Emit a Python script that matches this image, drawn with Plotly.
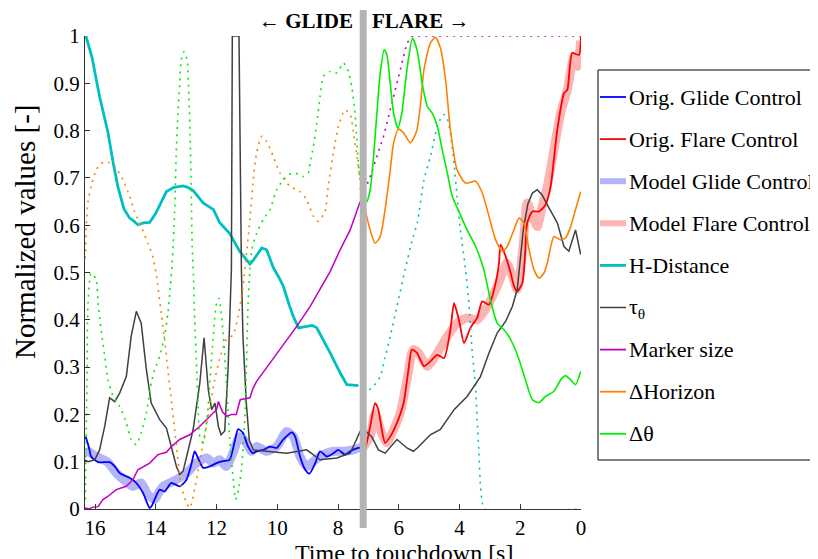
import plotly.graph_objects as go

FONT = "Liberation Serif"

# ---------------- data (time to touchdown [s], normalized value) ----------------
hdist_glide_t = [16.3, 16.1, 15.85, 15.57, 15.4, 15.25, 15.05, 14.86, 14.75, 14.59, 14.4, 14.2, 14.0, 13.85, 13.65, 13.4, 13.1, 12.95, 12.77, 12.6, 12.44, 12.1, 11.9, 11.57, 11.24, 11.05, 10.9, 10.8, 10.65, 10.51, 10.35, 10.13, 9.95, 9.8, 9.6, 9.47, 9.3, 9.15, 8.98, 8.85, 8.7, 8.5, 8.26, 7.93, 7.71, 7.5, 7.33]
hdist_glide_y = [1.0, 0.955, 0.872, 0.795, 0.731, 0.682, 0.635, 0.615, 0.61, 0.601, 0.605, 0.606, 0.625, 0.645, 0.671, 0.68, 0.683, 0.68, 0.673, 0.66, 0.647, 0.633, 0.606, 0.583, 0.545, 0.53, 0.518, 0.525, 0.54, 0.552, 0.548, 0.51, 0.49, 0.471, 0.43, 0.407, 0.383, 0.385, 0.386, 0.388, 0.383, 0.36, 0.33, 0.288, 0.263, 0.262, 0.261]
hdist_flare_t = [7.15, 7.05, 6.8, 6.61, 6.45, 6.28, 6.06, 5.79, 5.55, 5.39, 5.17, 4.96, 4.73, 4.6, 4.51, 4.4, 4.3, 4.18, 4.08, 3.97, 3.8, 3.69, 3.58, 3.47, 3.42, 3.36, 3.31, 3.25, 3.2, 0.0]
hdist_flare_y = [0.255, 0.249, 0.262, 0.28, 0.32, 0.365, 0.428, 0.506, 0.57, 0.605, 0.696, 0.745, 0.809, 0.828, 0.834, 0.825, 0.795, 0.731, 0.661, 0.59, 0.506, 0.435, 0.33, 0.259, 0.189, 0.118, 0.048, 0.013, 0.0, 0.0]

marker_glide_t = [16.34, 16.2, 16.07, 15.9, 15.74, 15.57, 15.3, 14.97, 14.75, 14.59, 14.2, 13.93, 13.65, 13.49, 13.21, 12.88, 12.55, 12.28, 12.0, 11.94, 11.8, 11.66, 11.5, 11.35, 11.22, 10.9, 10.8, 10.68, 10.24, 9.8, 9.36, 8.92, 8.59, 8.26, 7.93, 7.6, 7.44, 7.33, 7.27]
marker_glide_y = [0.002, 0.0, 0.004, 0.005, 0.02, 0.027, 0.041, 0.048, 0.062, 0.083, 0.097, 0.115, 0.12, 0.132, 0.147, 0.157, 0.175, 0.192, 0.21, 0.227, 0.205, 0.196, 0.2, 0.2, 0.231, 0.235, 0.255, 0.27, 0.309, 0.347, 0.386, 0.428, 0.464, 0.502, 0.548, 0.59, 0.619, 0.64, 0.65]
marker_flare_t = [7.2, 6.94, 6.72, 6.5, 6.28, 6.06, 5.84, 5.73, 5.55, 0.0]
marker_flare_y = [0.66, 0.703, 0.745, 0.788, 0.844, 0.9, 0.957, 0.985, 1.0, 1.0]

tau_t = [16.34, 16.23, 16.01, 15.85, 15.68, 15.52, 15.35, 15.19, 14.97, 14.81, 14.64, 14.48, 14.31, 14.15, 13.87, 13.65, 13.49, 13.32, 13.21, 13.1, 12.95, 12.77, 12.55, 12.41, 12.27, 12.16, 12.05, 11.94, 11.85, 11.73, 11.62, 11.57, 11.51, 11.48, 11.26, 11.18, 11.13, 11.02, 10.92, 10.79, 10.35, 9.69, 9.03, 8.59, 8.04, 7.6, 7.27, 7.11, 6.89, 6.67, 6.45, 6.06, 5.73, 5.52, 5.39, 4.96, 4.63, 4.18, 3.75, 3.31, 3.03, 2.76, 2.48, 2.26, 2.1, 1.9, 1.75, 1.6, 1.44, 1.28, 1.05, 0.78, 0.56, 0.4, 0.18, 0.01]
tau_y = [0.104, 0.1, 0.104, 0.125, 0.175, 0.235, 0.227, 0.245, 0.28, 0.365, 0.418, 0.393, 0.295, 0.224, 0.189, 0.171, 0.132, 0.09, 0.073, 0.08, 0.12, 0.168, 0.266, 0.362, 0.252, 0.21, 0.224, 0.175, 0.157, 0.165, 0.295, 0.4, 0.506, 1.0, 1.0, 0.506, 0.365, 0.224, 0.145, 0.125, 0.122, 0.118, 0.125, 0.104, 0.108, 0.118, 0.164, 0.166, 0.153, 0.125, 0.118, 0.147, 0.129, 0.122, 0.129, 0.157, 0.168, 0.21, 0.238, 0.28, 0.33, 0.372, 0.397, 0.428, 0.464, 0.59, 0.645, 0.668, 0.675, 0.664, 0.636, 0.605, 0.555, 0.545, 0.59, 0.538]

glide_orig_t = [16.31, 16.2, 16.13, 15.9, 15.52, 15.35, 15.19, 14.86, 14.64, 14.42, 14.28, 14.2, 14.12, 14.04, 13.87, 13.71, 13.49, 13.21, 12.99, 12.83, 12.72, 12.61, 12.44, 12.22, 12.0, 11.79, 11.57, 11.4, 11.29, 11.13, 10.96, 10.8, 10.68, 10.46, 10.24, 10.02, 9.8, 9.52, 9.41, 9.25, 9.08, 8.94, 8.75, 8.59, 8.37, 8.15, 7.99, 7.77, 7.6, 7.33, 7.2]
glide_orig_y = [0.153, 0.13, 0.111, 0.099, 0.099, 0.09, 0.076, 0.066, 0.055, 0.034, 0.012, 0.002, 0.008, 0.02, 0.041, 0.037, 0.055, 0.048, 0.062, 0.094, 0.122, 0.108, 0.087, 0.09, 0.097, 0.101, 0.104, 0.143, 0.169, 0.161, 0.132, 0.118, 0.122, 0.125, 0.132, 0.129, 0.147, 0.162, 0.153, 0.111, 0.083, 0.075, 0.097, 0.122, 0.111, 0.118, 0.125, 0.115, 0.122, 0.129, 0.13]

glide_model_t = [16.31, 15.96, 15.6, 15.3, 14.86, 14.75, 14.6, 14.48, 14.3, 14.2, 14.04, 13.9, 13.76, 13.32, 12.99, 12.66, 12.33, 12.11, 11.9, 11.68, 11.46, 11.24, 11.02, 10.85, 10.68, 10.35, 10.02, 9.69, 9.47, 9.25, 9.03, 8.75, 8.48, 8.15, 7.82, 7.49, 7.2]
glide_model_y = [0.125, 0.111, 0.1, 0.076, 0.052, 0.048, 0.052, 0.055, 0.035, 0.027, 0.02, 0.035, 0.048, 0.062, 0.076, 0.097, 0.108, 0.097, 0.104, 0.09, 0.118, 0.153, 0.14, 0.122, 0.132, 0.122, 0.132, 0.164, 0.153, 0.111, 0.09, 0.104, 0.115, 0.122, 0.122, 0.125, 0.132]

flare_orig_t = [7.2, 7.11, 6.94, 6.78, 6.67, 6.56, 6.45, 6.28, 6.06, 5.84, 5.68, 5.57, 5.4, 5.17, 4.96, 4.73, 4.51, 4.3, 4.18, 4.02, 3.85, 3.64, 3.42, 3.25, 3.03, 2.81, 2.7, 2.65, 2.48, 2.32, 2.2, 2.1, 1.93, 1.85, 1.77, 1.6, 1.38, 1.17, 1.0, 0.78, 0.56, 0.45, 0.29, 0.07, 0.0]
flare_orig_y = [0.127, 0.129, 0.175, 0.224, 0.21, 0.168, 0.14, 0.153, 0.182, 0.224, 0.295, 0.337, 0.33, 0.302, 0.312, 0.326, 0.319, 0.379, 0.435, 0.4, 0.351, 0.383, 0.404, 0.439, 0.432, 0.478, 0.52, 0.559, 0.534, 0.5, 0.47, 0.46, 0.478, 0.53, 0.605, 0.629, 0.629, 0.643, 0.682, 0.802, 0.879, 0.886, 0.964, 0.96, 0.999]

flare_model_t = [7.2, 6.94, 6.78, 6.56, 6.39, 6.17, 5.95, 5.73, 5.52, 5.35, 5.06, 4.73, 4.4, 4.08, 3.75, 3.42, 3.09, 2.76, 2.54, 2.45, 2.3, 2.1, 1.9, 1.77, 1.6, 1.44, 1.28, 1.11, 0.89, 0.67, 0.45, 0.23, 0.12, 0.01]
flare_model_y = [0.127, 0.153, 0.203, 0.16, 0.14, 0.168, 0.203, 0.273, 0.337, 0.33, 0.302, 0.33, 0.365, 0.393, 0.404, 0.4, 0.428, 0.471, 0.506, 0.52, 0.5, 0.464, 0.56, 0.647, 0.619, 0.597, 0.64, 0.682, 0.76, 0.837, 0.886, 0.957, 0.936, 0.99]

horizon_glide_t = [16.33, 16.31, 16.29, 16.23, 16.13, 15.96, 15.8, 15.57, 15.35, 15.08, 14.86, 14.7, 14.48, 14.26, 14.09, 13.98, 13.82, 13.71, 13.6, 13.49, 13.38, 13.27, 13.16, 12.99, 12.88, 12.66, 12.5, 12.28, 12.06, 11.9, 11.68, 11.46, 11.29, 11.13, 11.0, 10.9, 10.79, 10.68, 10.51, 10.35, 10.13, 9.91, 9.58, 9.25, 9.03, 8.81, 8.65, 8.43, 8.32, 8.15, 7.99, 7.77, 7.6, 7.49, 7.38, 7.33, 7.27]
horizon_glide_y = [0.53, 0.545, 0.597, 0.65, 0.682, 0.717, 0.731, 0.733, 0.724, 0.696, 0.661, 0.629, 0.597, 0.562, 0.531, 0.495, 0.414, 0.358, 0.294, 0.231, 0.168, 0.104, 0.048, 0.013, 0.002, 0.062, 0.118, 0.196, 0.273, 0.316, 0.358, 0.368, 0.407, 0.471, 0.548, 0.612, 0.696, 0.753, 0.788, 0.777, 0.745, 0.71, 0.682, 0.671, 0.654, 0.619, 0.608, 0.629, 0.682, 0.753, 0.809, 0.844, 0.834, 0.795, 0.745, 0.724, 0.69]
horizon_flare_t = [7.27, 7.11, 6.94, 6.78, 6.61, 6.45, 6.28, 6.17, 6.01, 5.84, 5.62, 5.5, 5.4, 5.29, 5.17, 4.96, 4.79, 4.63, 4.46, 4.3, 4.08, 3.8, 3.47, 3.25, 3.03, 2.81, 2.59, 2.43, 2.21, 2.04, 1.88, 1.71, 1.55, 1.38, 1.22, 1.11, 0.89, 0.67, 0.51, 0.34, 0.18, 0.01]
horizon_flare_y = [0.679, 0.633, 0.59, 0.562, 0.576, 0.633, 0.717, 0.774, 0.803, 0.795, 0.774, 0.785, 0.802, 0.851, 0.929, 0.985, 0.997, 0.975, 0.908, 0.802, 0.717, 0.689, 0.693, 0.668, 0.619, 0.569, 0.545, 0.555, 0.59, 0.615, 0.605, 0.548, 0.506, 0.488, 0.499, 0.52, 0.576, 0.569, 0.573, 0.597, 0.633, 0.671]

dtheta_glide_t = [16.32, 16.27, 16.23, 16.13, 15.96, 15.9, 15.8, 15.68, 15.57, 15.4, 15.19, 14.97, 14.81, 14.64, 14.48, 14.31, 14.15, 14.04, 13.87, 13.71, 13.6, 13.52, 13.46, 13.38, 13.33, 13.27, 13.21, 13.16, 13.07, 12.97, 12.91, 12.86, 12.83, 12.8, 12.76, 12.72, 12.66, 12.61, 12.55, 12.44, 12.3, 12.15, 12.0, 11.92, 11.78, 11.68, 11.57, 11.46, 11.37, 11.28, 11.18, 11.07, 11.02, 10.96, 10.9, 10.84, 10.68, 10.46, 10.24, 10.02, 9.8, 9.63, 9.41, 9.14, 8.98, 8.92, 8.81, 8.7, 8.59, 8.48, 8.26, 8.04, 7.82, 7.66, 7.55, 7.44, 7.38, 7.33, 7.29]
dtheta_glide_y = [0.02, 0.25, 0.435, 0.499, 0.485, 0.435, 0.379, 0.323, 0.273, 0.238, 0.217, 0.182, 0.147, 0.136, 0.161, 0.203, 0.266, 0.294, 0.323, 0.365, 0.414, 0.471, 0.52, 0.626, 0.745, 0.837, 0.9, 0.95, 0.967, 0.95, 0.872, 0.767, 0.661, 0.555, 0.495, 0.4, 0.309, 0.224, 0.153, 0.14, 0.2, 0.33, 0.435, 0.445, 0.372, 0.273, 0.153, 0.069, 0.02, 0.04, 0.083, 0.189, 0.294, 0.435, 0.506, 0.548, 0.583, 0.612, 0.633, 0.675, 0.696, 0.707, 0.71, 0.703, 0.71, 0.731, 0.767, 0.816, 0.872, 0.915, 0.925, 0.922, 0.943, 0.925, 0.894, 0.837, 0.781, 0.731, 0.703]
dtheta_flare_t = [7.25, 7.16, 7.05, 6.94, 6.83, 6.72, 6.61, 6.48, 6.39, 6.28, 6.17, 6.03, 5.9, 5.73, 5.55, 5.4, 5.23, 5.06, 4.9, 4.73, 4.57, 4.4, 4.24, 4.02, 3.75, 3.47, 3.2, 2.98, 2.76, 2.48, 2.26, 2.04, 1.83, 1.6, 1.38, 1.17, 0.89, 0.67, 0.51, 0.34, 0.18, 0.01]
dtheta_flare_y = [0.668, 0.65, 0.65, 0.675, 0.745, 0.837, 0.922, 0.971, 0.96, 0.9, 0.837, 0.805, 0.837, 0.929, 0.995, 0.971, 0.9, 0.851, 0.837, 0.809, 0.76, 0.71, 0.661, 0.629, 0.59, 0.555, 0.506, 0.442, 0.393, 0.375, 0.351, 0.316, 0.273, 0.231, 0.225, 0.238, 0.249, 0.273, 0.282, 0.273, 0.263, 0.291]

phase_switch_t = 7.17
x_ticks = [0, 2, 4, 6, 8, 10, 12, 14, 16]
y_ticks = [0, 0.1, 0.2, 0.3, 0.4, 0.5, 0.6, 0.7, 0.8, 0.9, 1.0]
y_tick_text = ["0", "0.1", "0.2", "0.3", "0.4", "0.5", "0.6", "0.7", "0.8", "0.9", "1"]
legend_names = ["Orig. Glide Control", "Orig. Flare Control", "Model Glide Control",
                "Model Flare Control", "H-Distance", "τ<sub>θ</sub>", "Marker size",
                "ΔHorizon", "Δθ"]
x_title = "Time to touchdown [s]"
y_title = "Normalized values [-]"

# ---------------- colours ----------------
C_BLUE = "#0000ff"
C_RED = "#ff0000"
C_LBLUE = "#b4b4f8"
C_PINK = "#ffb4b4"
C_CYAN = "#00bfbf"
C_GRAY = "#404040"
C_PURPLE = "#bf00bf"
C_ORANGE = "#ff8000"
C_GREEN = "#00ee00"
DOT = "2px,5px"
legend_colors = [C_BLUE, C_RED, C_LBLUE, C_PINK, C_CYAN, C_GRAY, C_PURPLE, C_ORANGE, C_GREEN]
legend_widths = [1.8, 1.8, 6, 6, 2.8, 1.5, 1.8, 1.8, 1.8]

# ---------------- geometry (figure pixels) ----------------
W, H = 818, 559
ML, MR, MT, MB = 77, 245, 28, 58
PW, PH = W - ML - MR, H - MT - MB


def px(fx):
    return (fx - ML) / PW


def py(fy):
    return (H - MB - fy) / PH


fig = go.Figure()


def add(t, y, color, width, dash="solid", shape="spline"):
    fig.add_trace(go.Scatter(
        x=t, y=y, mode="lines", showlegend=False,
        line=dict(color=color, width=width, dash=dash, shape=shape, smoothing=0.6),
        hoverinfo="skip",
    ))


add(glide_model_t, glide_model_y, C_LBLUE, 9)
add(flare_model_t, flare_model_y, C_PINK, 9)
add(glide_orig_t, glide_orig_y, C_BLUE, 1.8)
add(flare_orig_t, flare_orig_y, C_RED, 1.8)
add(hdist_glide_t, hdist_glide_y, C_CYAN, 2.8, shape="linear")
add(hdist_flare_t, hdist_flare_y, C_CYAN, 1.6, dash=DOT)
add(tau_t, tau_y, C_GRAY, 1.5, shape="linear")
add(marker_glide_t, marker_glide_y, C_PURPLE, 1.5, shape="linear")
add(marker_flare_t, marker_flare_y, C_PURPLE, 1.6, dash=DOT, shape="linear")
add(horizon_flare_t, horizon_flare_y, C_ORANGE, 1.6)
add(horizon_glide_t, horizon_glide_y, C_ORANGE, 1.6, dash=DOT)
add(dtheta_flare_t, dtheta_flare_y, C_GREEN, 1.6)
add(dtheta_glide_t, dtheta_glide_y, C_GREEN, 1.6, dash=DOT)

# phase switch band
fig.add_shape(type="line", xref="x", yref="paper", x0=phase_switch_t, x1=phase_switch_t,
              y0=py(520), y1=py(2), line=dict(color="#b3b3b3", width=7), layer="above")

fig.add_annotation(xref="paper", yref="paper", x=px(347), y=py(13), xanchor="right", yanchor="middle",
                   text="← <b>GLIDE</b>", showarrow=False, font=dict(family=FONT, size=21, color="black"))
fig.add_annotation(xref="paper", yref="paper", x=px(362), y=py(13), xanchor="left", yanchor="middle",
                   text="<b>FLARE</b> →", showarrow=False, font=dict(family=FONT, size=21, color="black"))

# axis titles (placed as in the reference)
fig.add_annotation(xref="paper", yref="paper", x=px(396), y=py(545), xanchor="center", yanchor="middle",
                   text=x_title, showarrow=False, font=dict(family=FONT, size=24, color="black"))
fig.add_annotation(xref="paper", yref="paper", x=px(17), y=py(224), xanchor="center", yanchor="middle",
                   text=y_title, textangle=-90, showarrow=False,
                   font=dict(family=FONT, size=29, color="black"))

# legend box (drawn by hand so spacing matches)
fig.add_shape(type="rect", xref="paper", yref="paper", x0=px(590), x1=px(840),
              y0=py(452), y1=py(62), line=dict(color="black", width=1), fillcolor="white", layer="above")
for i, (name, col, lw) in enumerate(zip(legend_names, legend_colors, legend_widths)):
    cy = 89 + i * 42.1
    fig.add_shape(type="line", xref="paper", yref="paper", x0=px(592), x1=px(618),
                  y0=py(cy), y1=py(cy), line=dict(color=col, width=lw), layer="above")
    fig.add_annotation(xref="paper", yref="paper", x=px(619), y=py(cy), xanchor="left", yanchor="middle",
                       text=name, showarrow=False, font=dict(family=FONT, size=22, color="black"))

fig.update_layout(
    width=W, height=H,
    margin=dict(l=ML, r=MR, t=MT, b=MB, autoexpand=False),
    paper_bgcolor="white", plot_bgcolor="white",
    font=dict(family=FONT, size=21, color="black"),
    showlegend=False,
    xaxis=dict(range=[16.33, 0], tickmode="array", tickvals=x_ticks,
               ticks="inside", ticklen=5, tickcolor="#333", showline=True, linecolor="#333",
               showgrid=False, zeroline=False, tickfont=dict(family=FONT, size=21)),
    yaxis=dict(range=[0, 1], tickmode="array", tickvals=y_ticks, ticktext=y_tick_text,
               ticks="inside", ticklen=5, tickcolor="#333", showline=True, linecolor="#333",
               showgrid=False, zeroline=False, tickfont=dict(family=FONT, size=21)),
)

fig.write_html("out.html")
